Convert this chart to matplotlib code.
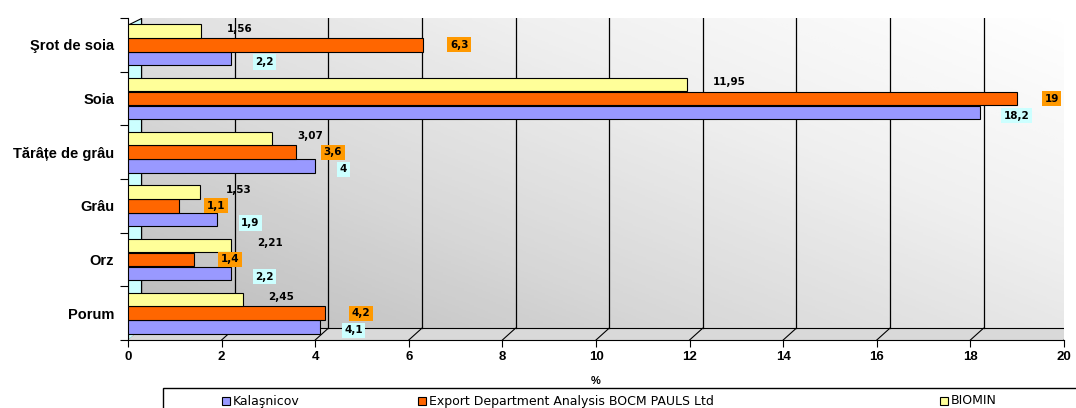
import numpy as np
import matplotlib
matplotlib.use('Agg')
import matplotlib.pyplot as plt
from matplotlib.patches import Rectangle

plt.rcParams['font.family'] = ['Liberation Sans', 'DejaVu Sans']

# date
categorii = ['Porum', 'Orz', 'Grâu', 'Tărâțe de grâu', 'Soia', 'Şrot de soia']
kalasnicov = [4.1, 2.2, 1.9, 4.0, 18.2, 2.2]
export_bocm = [4.2, 1.4, 1.1, 3.6, 19.0, 6.3]
biomin = [2.45, 2.21, 1.53, 3.07, 11.95, 1.56]
et_kal = ['4,1', '2,2', '1,9', '4', '18,2', '2,2']
et_exp = ['4,2', '1,4', '1,1', '3,6', '19', '6,3']
et_bio = ['2,45', '2,21', '1,53', '3,07', '11,95', '1,56']
serii = ['Kalaşnicov', 'Export Department Analysis BOCM PAULS Ltd', 'BIOMIN']

c_kal, c_exp, c_bio = '#9999FF', '#FF6600', '#FFFF99'

fig = plt.figure(figsize=(10.76, 4.08), dpi=100)
ax = fig.add_axes([128 / 1076, 68 / 408, 936 / 1076, 322 / 408])

# fundal cu gradient
grad = np.linspace(0, 1, 256)
gx, gy = np.meshgrid(grad, grad)
g = np.clip(0.55 * gx + 0.45 * gy, 0, 1)
ax.imshow(g, extent=[0.28, 20, -0.28, 5.5], aspect='auto', cmap='Greys_r',
          vmin=-1.6, vmax=1.0, origin='lower', zorder=0)
ax.fill_between([0, 0.28], [-0.5, -0.28], [5.38, 5.5], facecolor='#CCFFFF',
                edgecolor='black', lw=0.8, zorder=1)
# podea
ax.fill_between([0, 0.28, 20, 20], [-0.5, -0.28, -0.28, -0.28],
                [-0.5, -0.5, -0.5, -0.5], facecolor='#D9D9D9', edgecolor='none', zorder=1)

for xv in range(2, 21, 2):
    ax.plot([xv + 0.28, xv + 0.28], [-0.28, 5.5], color='black', lw=0.9, zorder=1)
    ax.plot([xv, xv + 0.28], [-0.5, -0.28], color='black', lw=0.8, zorder=1)
ax.plot([0.28, 20], [-0.28, -0.28], color='black', lw=0.8, zorder=1)
ax.plot([0.28, 0.28], [-0.28, 5.5], color='black', lw=0.8, zorder=1)

y = np.arange(len(categorii))
h = 0.25
ax.barh(y - 0.26, kalasnicov, h, color=c_kal, edgecolor='black', lw=0.8, zorder=3)
ax.barh(y, export_bocm, h, color=c_exp, edgecolor='black', lw=0.8, zorder=3)
ax.barh(y + 0.26, biomin, h, color=c_bio, edgecolor='black', lw=0.8, zorder=3)

lab = dict(fontsize=7.5, fontweight='bold', ha='left', va='center', zorder=4,
           family='DejaVu Sans')
for i in range(len(categorii)):
    ax.text(kalasnicov[i] + 0.52, y[i] - 0.32, et_kal[i],
            bbox=dict(boxstyle='square,pad=0.25', fc='#CCFFFF', ec='none'), **lab)
    ax.text(export_bocm[i] + 0.58, y[i], et_exp[i],
            bbox=dict(boxstyle='square,pad=0.25', fc='#FF9900', ec='none'), **lab)
    ax.text(biomin[i] + 0.55, y[i] + 0.3, et_bio[i], **lab)

ax.set_xlim(0, 20)
ax.set_ylim(-0.5, 5.5)
ax.set_xticks(range(0, 21, 2))
ax.set_xticklabels([str(v) for v in range(0, 21, 2)], fontsize=9.5, fontweight='bold')
ax.set_yticks(np.arange(-0.5, 6, 1), minor=False)
ax.set_yticklabels([])
ax.set_yticks(y, minor=True)
ax.set_yticklabels(categorii, minor=True, fontsize=10.5, fontweight='bold')
ax.tick_params(axis='y', which='minor', length=0, pad=10)
ax.tick_params(axis='y', which='major', length=6, direction='out')
ax.tick_params(axis='x', length=5, direction='out', pad=3)
ax.spines['top'].set_visible(False)
ax.spines['right'].set_visible(False)
ax.set_xlabel('%', fontsize=8, fontweight='bold', labelpad=9)

# legenda
fig.patches.append(Rectangle((163 / 1076, -0.05), 925 / 1076, 0.099,
                             transform=fig.transFigure, fill=False,
                             edgecolor='black', lw=1.0))
for x0, nume, c in zip([222, 418, 940], serii, [c_kal, c_exp, c_bio]):
    fig.patches.append(Rectangle((x0 / 1076, 3 / 408), 8 / 1076, 8 / 408,
                                 transform=fig.transFigure, facecolor=c,
                                 edgecolor='black', lw=0.8))
    fig.text((x0 + 11) / 1076, 7 / 408, nume, fontsize=9, va='center',
             family='DejaVu Sans')

fig.savefig('out.png', dpi=100)
